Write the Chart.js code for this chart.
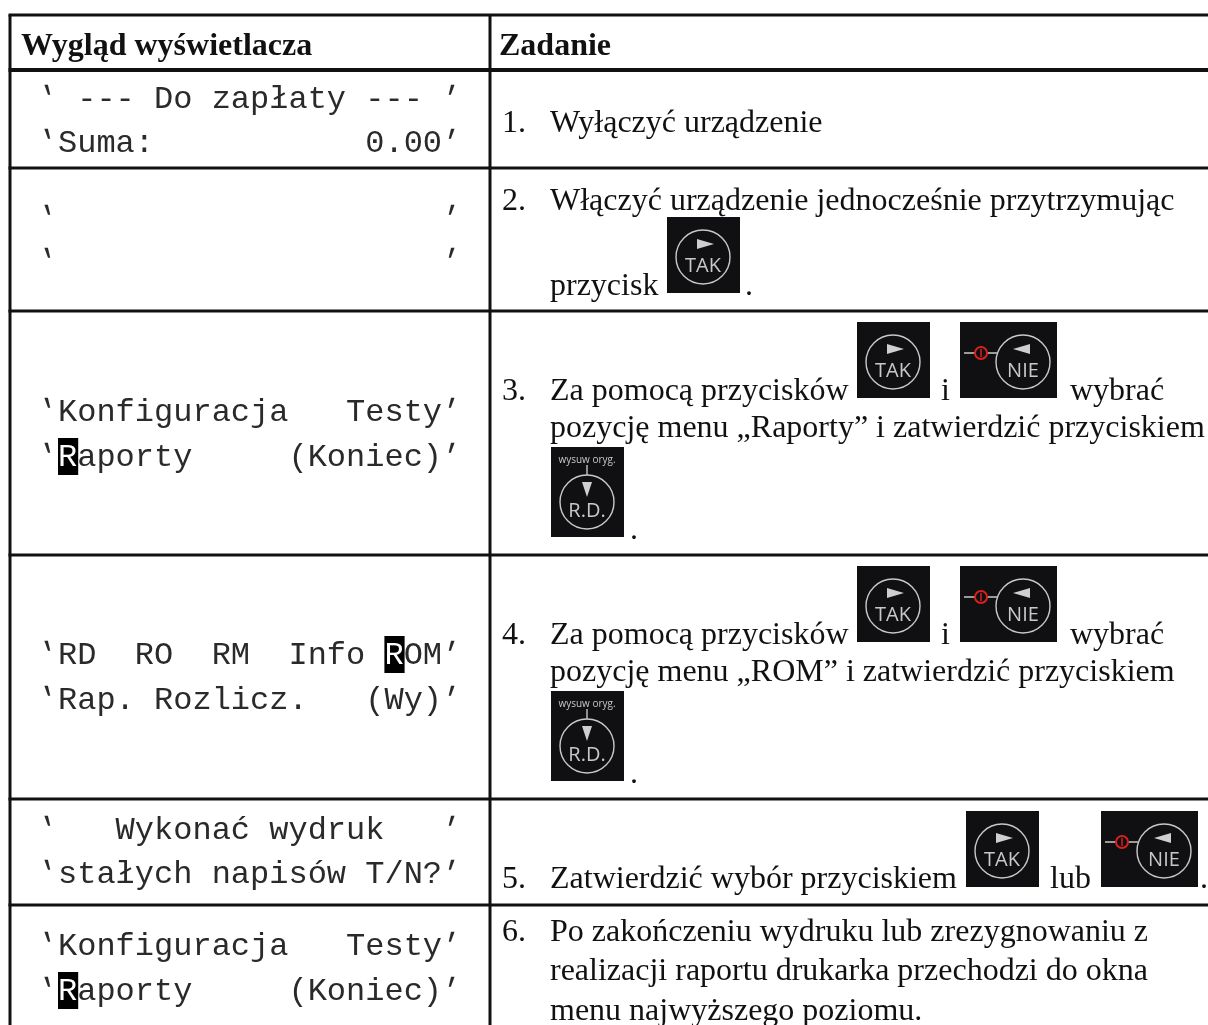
<!DOCTYPE html>
<html lang="pl">
<head>
<meta charset="utf-8">
<title>Wygląd wyświetlacza</title>
<style>
  html, body { margin: 0; padding: 0; background: #fff; overflow: hidden; }
  canvas { display: block; }
</style>
<script src="https://cdn.jsdelivr.net/npm/chart.js@4"></script>
</head>
<body>
<canvas id="tableChart" width="1208" height="1025"></canvas>
<script>
const HEADERS = ['Wygląd wyświetlacza', 'Zadanie'];

const DISPLAY_LINES = [
  "' --- Do zapłaty --- '",
  "'Suma:           0.00'",
  "'                    '",
  "'                    '",
  "'Konfiguracja   Testy'",
  "'Raporty     (Koniec)'",
  "'RD  RO  RM  Info ROM'",
  "'Rap. Rozlicz.   (Wy)'",
  "'   Wykonać wydruk   '",
  "'stałych napisów T/N?'",
  "'Konfiguracja   Testy'",
  "'Raporty     (Koniec)'",
];

const TASK_NUMBERS = ['1.', '2.', '3.', '4.', '5.', '6.'];

const TASK_LINES = [
  'Wyłączyć urządzenie',
  'Włączyć urządzenie jednocześnie przytrzymując',
  'przycisk',
  'Za pomocą przycisków',
  'i',
  'wybrać',
  'pozycję menu „Raporty” i zatwierdzić przyciskiem',
  'Za pomocą przycisków',
  'i',
  'wybrać',
  'pozycję menu „ROM” i zatwierdzić przyciskiem',
  'Zatwierdzić wybór przyciskiem',
  'lub',
  'Po zakończeniu wydruku lub zrezygnowaniu z',
  'realizacji raportu drukarka przechodzi do okna',
  'menu najwyższego poziomu.',
];

// table rules, in page pixels
const ROW_EDGES = [15, 70, 168, 311, 555, 799, 905];
const ROW_WEIGHTS = [3, 4, 3, 3, 3, 3, 3];
const COLUMN_EDGES = [10, 490];

const DISPLAY_BASELINES = [108, 152, 228, 271, 421, 466, 664, 709, 839, 883, 955, 1000];
const NUMBER_BASELINES = [132, 210, 400, 644, 888, 941];
const TASK_X = [550, 550, 550, 550, 941, 1070, 550, 550, 941, 1070, 550, 550, 1050, 550, 550, 550];
const TASK_BASELINES = [132, 210, 295, 400, 400, 400, 437, 644, 644, 644, 681, 888, 888, 941, 980, 1020];
const DOTS = [[745, 295], [630, 539], [630, 783], [1200, 888]];

// line index and character index of the inverted cursor cell
const CURSORS = [[5, 1], [6, 18], [11, 1]];

const BUTTONS = [
  ['TAK', 667, 217], ['TAK', 857, 322], ['NIE', 960, 322], ['RD', 551, 447],
  ['TAK', 857, 566], ['NIE', 960, 566], ['RD', 551, 691],
  ['TAK', 966, 811], ['NIE', 1101, 811],
];

const INK = '#111';
const MONO_INK = '#2a2a2a';
const MONO = '32px "Liberation Mono", monospace';
const SERIF = '32px "Liberation Serif", serif';
const SERIF_BOLD = 'bold 32px "Liberation Serif", serif';
const CELL = 19.2;
const MONO_X = 38.8;
const QUOTE_SLANT = 0.3;
const QUOTE_RISE = 16;

function label(ctx, text, x, y, font, color, align = 'left') {
  ctx.font = font;
  ctx.fillStyle = color;
  ctx.textAlign = align;
  ctx.fillText(text, x, y);
}

// the display's quote marks lean in towards the text, so shear a straight one
function quote(ctx, x, y, lean) {
  ctx.save();
  ctx.transform(1, 0, lean, 1, x - lean * (y - QUOTE_RISE), 0);
  label(ctx, "'", 0, y, MONO, MONO_INK, 'center');
  ctx.restore();
}

function triangle(ctx, pts) {
  ctx.fillStyle = '#cfcfcf';
  ctx.beginPath();
  ctx.moveTo(pts[0], pts[1]);
  ctx.lineTo(pts[2], pts[3]);
  ctx.lineTo(pts[4], pts[5]);
  ctx.closePath();
  ctx.fill();
}

function ring(ctx, x, y, r, color, width) {
  ctx.strokeStyle = color;
  ctx.lineWidth = width;
  ctx.beginPath();
  ctx.arc(x, y, r, 0, Math.PI * 2);
  ctx.stroke();
}

function segment(ctx, x1, y1, x2, y2, color, width) {
  ctx.strokeStyle = color;
  ctx.lineWidth = width;
  ctx.beginPath();
  ctx.moveTo(x1, y1);
  ctx.lineTo(x2, y2);
  ctx.stroke();
}

function drawButton(ctx, kind, x, y) {
  const w = kind === 'NIE' ? 97 : 73;
  const h = kind === 'RD' ? 90 : 76;
  const grey = '#c8c8c8';
  const sans = '"Open Sans", sans-serif';
  ctx.fillStyle = '#101012';
  ctx.fillRect(x, y, w, h);
  if (kind === 'TAK') {
    ring(ctx, x + 36, y + 40, 27, grey, 1.4);
    triangle(ctx, [x + 30, y + 22, x + 47, y + 27, x + 30, y + 32]);
    label(ctx, 'TAK', x + 36, y + 55, '20px ' + sans, grey, 'center');
  } else if (kind === 'NIE') {
    ring(ctx, x + 63, y + 40, 27, grey, 1.4);
    triangle(ctx, [x + 70, y + 22, x + 53, y + 27, x + 70, y + 32]);
    segment(ctx, x + 4, y + 31, x + 37, y + 31, grey, 1.4);
    ctx.fillStyle = '#101012';
    ctx.beginPath();
    ctx.arc(x + 21, y + 31, 6, 0, Math.PI * 2);
    ctx.fill();
    ring(ctx, x + 21, y + 31, 6, '#d8201c', 2);
    segment(ctx, x + 21, y + 27, x + 21, y + 35, '#d8201c', 1.5);
    label(ctx, 'NIE', x + 63, y + 55, '20px ' + sans, grey, 'center');
  } else {
    label(ctx, 'wysuw oryg.', x + 36, y + 16, '10px ' + sans, grey, 'center');
    segment(ctx, x + 36, y + 18, x + 36, y + 28, grey, 1.4);
    ring(ctx, x + 36, y + 55, 27, grey, 1.4);
    triangle(ctx, [x + 31, y + 35, x + 41, y + 35, x + 36, y + 50]);
    label(ctx, 'R.D.', x + 36, y + 70, '20px ' + sans, grey, 'center');
  }
}

const tableText = {
  id: 'tableText',
  afterDraw(chart) {
    const { ctx, scales: { x, y } } = chart;
    const px = v => x.getPixelForValue(v);
    const py = v => y.getPixelForValue(v);
    ctx.save();
    ctx.textBaseline = 'alphabetic';

    label(ctx, HEADERS[0], px(21), py(55), SERIF_BOLD, INK);
    label(ctx, HEADERS[1], px(499), py(55), SERIF_BOLD, INK);

    DISPLAY_LINES.forEach((line, i) => {
      const base = py(DISPLAY_BASELINES[i]);
      quote(ctx, px(MONO_X + 0.5 * CELL), base, QUOTE_SLANT);
      label(ctx, line.slice(1, -1), px(MONO_X + CELL), base, MONO, MONO_INK);
      quote(ctx, px(MONO_X + 21.5 * CELL - 1), base, -QUOTE_SLANT);
    });
    CURSORS.forEach(([line, pos]) => {
      const cellX = px(MONO_X + pos * CELL);
      const base = py(DISPLAY_BASELINES[line]);
      ctx.fillStyle = '#000';
      ctx.fillRect(cellX, base - 28, CELL + 1, 37);
      label(ctx, DISPLAY_LINES[line][pos], cellX, base, MONO, '#fff');
    });

    TASK_NUMBERS.forEach((n, i) => label(ctx, n, px(502), py(NUMBER_BASELINES[i]), SERIF, INK));
    TASK_LINES.forEach((line, i) => label(ctx, line, px(TASK_X[i]), py(TASK_BASELINES[i]), SERIF, INK));
    DOTS.forEach(([dx, dy]) => label(ctx, '.', px(dx), py(dy), SERIF, INK));

    BUTTONS.forEach(([kind, bx, by]) => drawButton(ctx, kind, px(bx), py(by)));
    ctx.restore();
  },
};

const horizontalRules = ROW_EDGES.map((edge, i) => ({
  data: [{ x: COLUMN_EDGES[0] - 1.5, y: edge }, { x: 1208, y: edge }],
  borderWidth: ROW_WEIGHTS[i],
}));
const verticalRules = COLUMN_EDGES.map(edge => ({
  data: [{ x: edge, y: ROW_EDGES[0] }, { x: edge, y: 1025 }],
  borderWidth: 3,
}));

new Chart(document.getElementById('tableChart'), {
  type: 'scatter',
  data: {
    datasets: [...horizontalRules, ...verticalRules].map(d => ({
      ...d,
      showLine: true,
      borderColor: INK,
      pointRadius: 0,
      clip: false,
    })),
  },
  options: {
    responsive: false,
    animation: false,
    layout: { padding: 0 },
    plugins: { legend: { display: false }, tooltip: { enabled: false } },
    scales: {
      x: { type: 'linear', min: 0, max: 1208, display: false },
      y: { type: 'linear', min: 0, max: 1025, reverse: true, display: false },
    },
  },
  plugins: [tableText],
});
</script>
</body>
</html>
